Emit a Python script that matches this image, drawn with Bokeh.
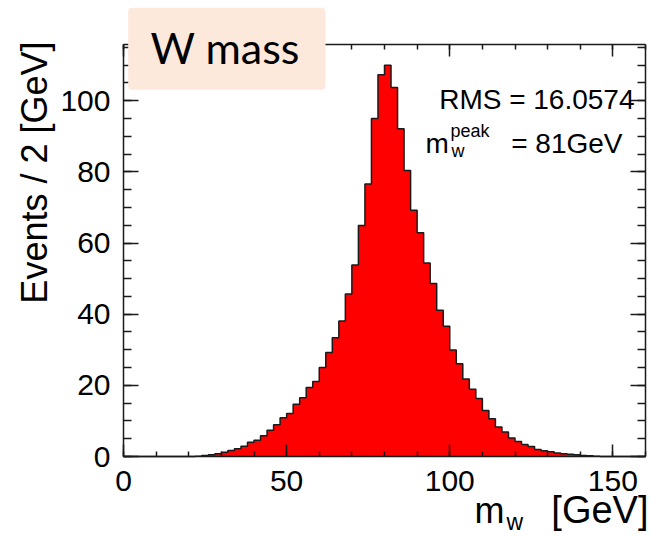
from bokeh.plotting import figure
from bokeh.models import (Label, BoxAnnotation, LinearAxis, SingleIntervalTicker, Range1d)
from bokeh.embed import file_html
from bokeh.resources import INLINE

# ---- data -------------------------------------------------------------
bin_width = 2
x_min, x_max = 0, 160
y_max = 115.8
counts = [
    0, 0, 0, 0, 0, 0, 0, 0, 0, 0,            # 0-20
    0, 0.1, 0.3, 0.5, 0.8, 1.2, 1.7, 2.2, 2.9, 4.0,   # 20-40
    4.6, 5.8, 7.4, 8.9, 10.9, 12.1, 14.7, 16.5, 19.4, 21.1,  # 40-60
    25.0, 29.2, 33.4, 38.1, 45.7, 53.8, 64.9, 76.6, 95.0, 107.3,  # 60-80
    110.0, 103.7, 92.1, 80.4, 69.2, 62.9, 54.4, 48.6, 41.1, 36.6,  # 80-100
    29.9, 26.1, 21.8, 18.9, 16.3, 12.9, 10.6, 8.3, 6.9, 5.2,  # 100-120
    4.2, 3.4, 2.8, 2.0, 1.6, 1.3, 1.0, 0.8, 0.6, 0.5,  # 120-140
    0.3, 0.2, 0.1, 0, 0, 0, 0, 0, 0, 0,      # 140-160
]
x_ticks_major = 50
y_ticks_major = 20
title_text = "W mass"
rms_text = "RMS = 16.0574"
peak_text = "= 81GeV"
y_title = "Events / 2  [GeV]"
x_title_unit = "[GeV]"

edges = [x_min + i * bin_width for i in range(len(counts) + 1)]
step_vals = counts + [counts[-1]]

# ---- geometry: the frame fills the canvas; the histogram box sits inside --
W, H = 650, 536
BOX_L, BOX_R, BOX_T, BOX_B = 123, 645, 44, 456     # pixel edges of the plot box
kx = (BOX_R - BOX_L) / (x_max - x_min)
ky = (BOX_B - BOX_T) / y_max
xr = Range1d(x_min - BOX_L / kx, x_max + (W - BOX_R) / kx)
yr = Range1d(0 - (H - BOX_B) / ky, y_max + BOX_T / ky)

def dx(px):
    return xr.start + px / kx
def dy(py):
    return yr.end - py / ky

FONT = "Liberation Sans"
INK = "#1a1a1a"

p = figure(width=W, height=H, output_backend="svg", toolbar_location=None,
           x_range=xr, y_range=yr, min_border=0,
           background_fill_color="white", border_fill_color="white",
           x_axis_type=None, y_axis_type=None)
p.grid.visible = False
p.outline_line_color = None

p.varea_step(x=edges, y1=[0] * len(edges), y2=step_vals, step_mode="after",
             fill_color="#ff0000")
p.step(edges, step_vals, mode="after", line_color=INK, line_width=1.5)

def make_axis(place, fixed, bounds, interval, minor, tick_in, minor_in,
              labels, size="30px", standoff=12):
    ax = LinearAxis(ticker=SingleIntervalTicker(interval=interval, num_minor_ticks=minor),
                    fixed_location=fixed, bounds=bounds)
    ax.axis_line_color = INK
    ax.axis_line_width = 1.5
    ax.major_tick_line_color = INK
    ax.minor_tick_line_color = INK
    ax.major_tick_line_width = 1.5
    ax.minor_tick_line_width = 1.5
    ax.major_tick_in = tick_in
    ax.major_tick_out = 0
    ax.minor_tick_in = minor_in
    ax.minor_tick_out = 0
    if labels:
        ax.major_label_text_font = FONT
        ax.major_label_text_font_size = size
        ax.major_label_text_color = "black"
        ax.major_label_standoff = standoff
    else:
        ax.major_label_text_color = None
    p.add_layout(ax, place)
    return ax

make_axis("below", 0, (x_min, x_max), x_ticks_major, 5, 12, 5, True, standoff=14)
make_axis("above", y_max, (x_min, x_max), x_ticks_major, 5, 12, 5, False)
make_axis("left", x_min, (0, y_max), y_ticks_major, 4, 15, 8, True, standoff=13)
make_axis("right", x_max, (0, y_max), y_ticks_major, 4, 15, 8, False)

# ---- annotations ------------------------------------------------------
SHIFT = 0.32   # measured offset of the drawn baseline, in em

def lab(x, y, text, size, align="left", font=FONT, angle=0.0, shift=True):
    fs = float(size.replace("px", ""))
    yy = y - SHIFT * fs if shift else y
    p.add_layout(Label(x=dx(x), y=dy(yy), text=text, text_font=font,
                       text_font_size=size, text_align=align,
                       text_baseline="alphabetic", text_color="black",
                       angle=angle))

p.add_layout(BoxAnnotation(left=dx(127.7), right=dx(325), top=dy(7.3),
                           bottom=dy(89.3), fill_color="#fce9dc", fill_alpha=1.0,
                           line_color=None, border_radius=4, level="annotation"))
lab(150, 61, title_text, "43px", font="Lato")

lab(634, 107.7, rms_text, "28px", align="right")
lab(425, 151.7, "m", "28px")
lab(450, 136.7, "peak", "18px")
lab(451, 156, "w", "18px")
lab(622, 151.7, peak_text, "28px", align="right")

lab(34, 31, y_title, "36px", align="right", angle=1.5708, shift=False)
lab(648, 522, x_title_unit, "38px", align="right")
lab(474, 522, "m", "36px")
lab(506, 529, "w", "23px")

open("out.html", "w").write(file_html(p, INLINE))
